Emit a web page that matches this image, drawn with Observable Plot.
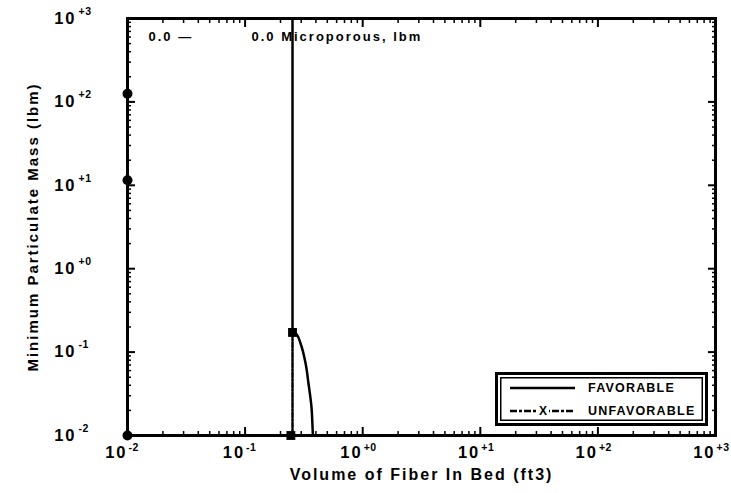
<!DOCTYPE html>
<html><head><meta charset="utf-8">
<script src="https://cdn.jsdelivr.net/npm/d3@7"></script>
<script src="https://cdn.jsdelivr.net/npm/@observablehq/plot@0.6"></script>
<style>
body{margin:0;background:#fff;}
#wrap{position:relative;width:731px;height:493px;font-family:"Liberation Sans",Arial,sans-serif;}
#wrap > svg text{letter-spacing:2px;}
#legend{position:absolute;left:495px;top:372px;width:207px;height:48px;border:3px solid #000;background:#fff;box-shadow:inset 0 0 0 2px #fff, inset 0 0 0 3.5px #000;}
#legend svg{position:absolute;left:0;top:0;}
#legend text{font-family:"Liberation Sans",Arial,sans-serif;font-weight:bold;font-size:12.5px;letter-spacing:1.2px;}
</style></head><body><div id="wrap"></div>
<script>
// axis decades and tick labels
const decades = [0.01, 0.1, 1, 10, 100, 1000];
const decadeBase = ["10", "10", "10", "10", "10", "10"];
const decadeExp = ["-2", "-1", "+0", "+1", "+2", "+3"];
const xTitle = "Volume of Fiber In Bed (ft3)";
const yTitle = "Minimum Particulate Mass (lbm)";
const noteLeft = ["0.0 —"];
const noteRight = ["0.0 Microporous, lbm"];
const legendNames = ["FAVORABLE", "UNFAVORABLE"];

// FAVORABLE series (solid)
const favLeftX = [0.01, 0.01];
const favLeftY = [0.01, 125];
const favVertX = [0.253, 0.253];
const favVertY = [1000, 0.172];
const favCurveX = [0.253, 0.274, 0.296, 0.327, 0.346, 0.367, 0.374, 0.377];
const favCurveY = [0.172, 0.163, 0.127, 0.073, 0.042, 0.0217, 0.0132, 0.01];
const favDotX = [0.01, 0.01, 0.01];
const favDotY = [0.01, 11.5, 125];

// UNFAVORABLE series (dash-dot)
const unfVertX = [0.253, 0.253];
const unfVertY = [0.172, 0.01];
const unfBaseX = [0.01, 1000];
const unfBaseY = [0.01, 0.01];
const unfSqX = [0.253, 0.245];
const unfSqY = [0.172, 0.01];

const minor = decades.slice(0, -1).flatMap(d => [2,3,4,5,6,7,8,9].map(k => k * d));
const pts = (xs, ys) => xs.map((x, i) => ({x, y: ys[i]}));
const ticks = decades.map((v, i) => ({v, base: decadeBase[i], exp: decadeExp[i]}));
const blank = () => "";
const tk = (anchor, vals, size, sw) =>
  (anchor === "bottom" || anchor === "top" ? Plot.axisX : Plot.axisY)(vals, {anchor, tickSize: -size, tickFormat: blank, strokeWidth: sw, label: null});

const bold = {fontWeight: "bold", fill: "#000", fontFamily: "'Liberation Sans', Arial, sans-serif"};

const chart = Plot.plot({
  width: 731, height: 493,
  marginLeft: 127, marginRight: 16, marginTop: 18, marginBottom: 58,
  style: {background: "#fff", color: "#000", overflow: "visible"},
  x: {type: "log", domain: [0.01, 1000], axis: null},
  y: {type: "log", domain: [0.01, 1000], axis: null},
  marks: [
    // inward ticks on all four sides
    tk("bottom", minor, 4, 1.5), tk("top", minor, 4, 1.5), tk("left", minor, 4, 1.5), tk("right", minor, 4, 1.5),
    tk("bottom", decades, 8, 2), tk("top", decades, 8, 2), tk("left", decades, 8, 2), tk("right", decades, 8, 2),
    // tick labels: base "10" plus raised exponent
    Plot.text(ticks, {x: "v", text: "base", frameAnchor: "bottom", dy: 22, dx: 0, textAnchor: "end", fontSize: 16.5, ...bold}),
    Plot.text(ticks, {x: "v", text: "exp", frameAnchor: "bottom", dy: 15, dx: 1, textAnchor: "start", fontSize: 10.5, ...bold}),
    Plot.text(ticks, {y: "v", text: "base", frameAnchor: "left", dx: -51, textAnchor: "end", fontSize: 16.5, ...bold}),
    Plot.text(ticks, {y: "v", text: "exp", frameAnchor: "left", dx: -49, dy: -7, textAnchor: "start", fontSize: 10.5, ...bold}),
    Plot.frame({stroke: "#000", strokeWidth: 3}),
    // data
    Plot.line(pts(unfBaseX, unfBaseY), {x: "x", y: "y", stroke: "#000", strokeWidth: 2.5}),
    Plot.line(pts(favLeftX, favLeftY), {x: "x", y: "y", stroke: "#000", strokeWidth: 3}),
    Plot.line(pts(favVertX, favVertY), {x: "x", y: "y", stroke: "#000", strokeWidth: 2.5}),
    Plot.line(pts(favCurveX, favCurveY), {x: "x", y: "y", stroke: "#000", strokeWidth: 2.5, curve: "monotone-y"}),
    Plot.line(pts(unfVertX, unfVertY), {x: "x", y: "y", stroke: "#000", strokeWidth: 2.5, strokeDasharray: "5,1.5,2,1.5"}),
    Plot.dot(pts(favDotX, favDotY), {x: "x", y: "y", r: 5, fill: "#000", symbol: "circle"}),
    Plot.dot(pts(unfSqX, unfSqY), {x: "x", y: "y", r: 5, fill: "#000", symbol: "square"}),
    // annotations and titles
    Plot.text(noteLeft, {frameAnchor: "top-left", dx: 21, dy: 13, textAnchor: "start", fontSize: 13, ...bold}),
    Plot.text(noteRight, {frameAnchor: "top-left", dx: 124, dy: 13, textAnchor: "start", fontSize: 13, ...bold}),
    Plot.text([xTitle], {frameAnchor: "bottom", dy: 44, textAnchor: "middle", fontSize: 16, ...bold}),
    Plot.text([yTitle], {frameAnchor: "left", dx: -94, rotate: -90, textAnchor: "middle", fontSize: 15, ...bold})
  ]
});
chart.querySelectorAll("text").forEach(t => {
  if (decadeExp.includes(t.textContent)) t.style.letterSpacing = "0.5px";
});
const wrap = document.getElementById("wrap");
wrap.appendChild(chart);

// legend overlay inside the plot
const lg = document.createElement("div");
lg.id = "legend";
lg.innerHTML = `<svg width="207" height="48">
  <line x1="12" x2="77" y1="13" y2="13" stroke="#000" stroke-width="2.5"/>
  <text x="90" y="13" dominant-baseline="central">${legendNames[0]}</text>
  <line x1="12" x2="77" y1="36" y2="36" stroke="#000" stroke-width="2.5" stroke-dasharray="7,2,3,2"/>
  <rect x="39" y="31" width="12" height="10" fill="#fff"/>
  <text x="45" y="36" dominant-baseline="central" text-anchor="middle" style="font-size:12px;letter-spacing:0">X</text>
  <text x="90" y="36" dominant-baseline="central">${legendNames[1]}</text>
</svg>`;
wrap.appendChild(lg);
</script></body></html>
